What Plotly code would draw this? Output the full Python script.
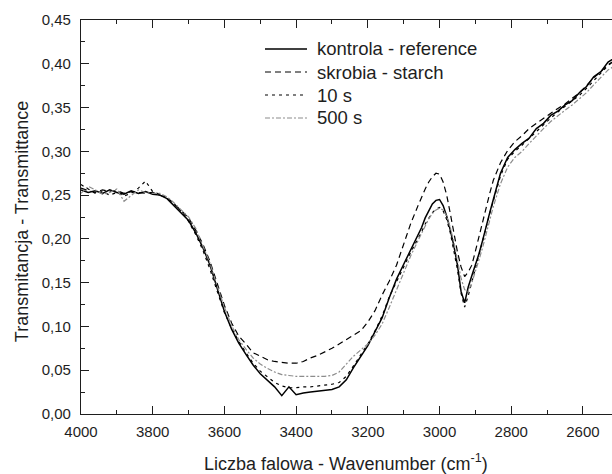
import plotly.graph_objects as go

wavenumber = [
    4000, 3980, 3960, 3940, 3920, 3900, 3880, 3860, 3840, 3820, 3800, 3780,
    3760, 3740, 3720, 3700, 3680, 3660, 3640, 3620, 3600, 3580, 3560, 3540,
    3520, 3500, 3480, 3460, 3440, 3420, 3400, 3380, 3360, 3340, 3320, 3300,
    3280, 3260, 3240, 3220, 3200, 3180, 3160, 3140, 3120, 3100, 3080, 3060,
    3050, 3040, 3030, 3020, 3010, 3000, 2990, 2980, 2970, 2960, 2950, 2940,
    2930, 2920, 2910, 2900, 2890, 2880, 2870, 2860, 2850,
    2830, 2810, 2790, 2770, 2750, 2730, 2710, 2690, 2670, 2650, 2630, 2610,
    2590, 2570, 2550, 2530, 2510,
]

kontrola = [
    0.256, 0.253, 0.255, 0.252, 0.256, 0.253, 0.251, 0.255, 0.252, 0.254, 0.251, 0.250,
    0.246, 0.238, 0.230, 0.221, 0.207, 0.190, 0.170, 0.143, 0.117, 0.097, 0.081, 0.068,
    0.056, 0.046, 0.038, 0.031, 0.021, 0.031, 0.022, 0.024, 0.025, 0.026, 0.027, 0.028,
    0.031, 0.039, 0.053, 0.066, 0.078, 0.094, 0.110, 0.133, 0.154, 0.171, 0.188, 0.205,
    0.213, 0.224, 0.232, 0.240, 0.244, 0.245, 0.238, 0.226, 0.210, 0.192, 0.170, 0.140,
    0.127, 0.145, 0.158, 0.170, 0.183, 0.198, 0.215, 0.230, 0.245,
    0.275, 0.293, 0.302, 0.309, 0.315, 0.326, 0.332, 0.341, 0.346, 0.353, 0.358, 0.367,
    0.374, 0.385, 0.391, 0.402, 0.407,
]

skrobia = [
    0.258, 0.255, 0.253, 0.256, 0.254, 0.255, 0.252, 0.254, 0.253, 0.252, 0.253, 0.250,
    0.247, 0.240, 0.232, 0.224, 0.210, 0.194, 0.174, 0.148, 0.124, 0.104, 0.089, 0.080,
    0.070, 0.066, 0.062, 0.060, 0.059, 0.058, 0.058, 0.060, 0.064, 0.067, 0.071, 0.075,
    0.080, 0.085, 0.090, 0.095, 0.105, 0.118, 0.136, 0.152, 0.170, 0.195, 0.218, 0.238,
    0.248, 0.257, 0.265, 0.271, 0.275, 0.274, 0.265, 0.250, 0.229, 0.206, 0.185, 0.168,
    0.157, 0.162, 0.170, 0.186, 0.203, 0.220, 0.236, 0.252, 0.267,
    0.287, 0.301, 0.311, 0.318, 0.326, 0.332, 0.338, 0.344, 0.349, 0.354, 0.360, 0.367,
    0.375, 0.384, 0.391, 0.399, 0.404,
]

s10 = [
    0.262, 0.257, 0.252, 0.254, 0.250, 0.253, 0.249, 0.252, 0.258, 0.266, 0.254, 0.251,
    0.247, 0.240, 0.231, 0.220, 0.205, 0.187, 0.165, 0.140, 0.116, 0.098, 0.083, 0.070,
    0.058, 0.049, 0.042, 0.036, 0.032, 0.030, 0.030, 0.031, 0.031, 0.032, 0.033, 0.034,
    0.036, 0.043, 0.055, 0.068, 0.080, 0.095, 0.112, 0.134, 0.152, 0.168, 0.185, 0.200,
    0.208, 0.217, 0.224, 0.230, 0.234, 0.236, 0.232, 0.222, 0.207, 0.188, 0.165, 0.138,
    0.122, 0.135, 0.150, 0.165, 0.180, 0.196, 0.213, 0.229, 0.243,
    0.272, 0.291, 0.300, 0.307, 0.315, 0.322, 0.331, 0.338, 0.345, 0.351, 0.357, 0.364,
    0.372, 0.381, 0.389, 0.398, 0.404,
]

s500 = [
    0.252, 0.260, 0.256, 0.251, 0.253, 0.257, 0.243, 0.250, 0.256, 0.253, 0.252, 0.252,
    0.248, 0.241, 0.233, 0.225, 0.212, 0.193, 0.172, 0.146, 0.122, 0.101, 0.085, 0.074,
    0.064, 0.057, 0.052, 0.048, 0.045, 0.044, 0.043, 0.043, 0.043, 0.043, 0.043, 0.044,
    0.048, 0.057, 0.066, 0.073, 0.080, 0.090, 0.103, 0.122, 0.142, 0.163, 0.181, 0.198,
    0.207, 0.215, 0.223, 0.229, 0.233, 0.235, 0.233, 0.226, 0.213, 0.196, 0.177, 0.155,
    0.142, 0.140, 0.150, 0.162, 0.176, 0.190, 0.206, 0.222, 0.237,
    0.263, 0.282, 0.293, 0.300, 0.309, 0.318, 0.326, 0.334, 0.341, 0.347, 0.353, 0.360,
    0.367, 0.376, 0.384, 0.393, 0.398,
]

series_names = ["kontrola - reference", "skrobia - starch", "10 s", "500 s"]

FONT = "Liberation Sans, Arial, sans-serif"
INK = "#1e1e1e"

styles = [
    dict(color="#000000", width=1.5, dash="solid"),
    dict(color="#000000", width=1.2, dash="6px,4px"),
    dict(color="#000000", width=1.2, dash="3px,4px"),
    dict(color="#8c8c8c", width=1.2, dash="5px,2px,2px,2px"),
]

fig = go.Figure()
for name, ys, st in zip(series_names, [kontrola, skrobia, s10, s500], styles):
    fig.add_trace(go.Scatter(x=wavenumber, y=ys, mode="lines", name=name,
                             line=st, showlegend=False))

# Custom legend (sample line + label), in plot-area paper coordinates
legend_rows_y = [0.9264, 0.8680, 0.8096, 0.7513]
for name, st, ly in zip(series_names, styles, legend_rows_y):
    fig.add_shape(type="line", xref="paper", yref="paper",
                  x0=0.3465, x1=0.4256, y0=ly, y1=ly,
                  line=dict(color=st["color"], width=st["width"], dash=st["dash"]))
    fig.add_annotation(xref="paper", yref="paper", x=0.4407, y=ly,
                       xanchor="left", yanchor="middle", showarrow=False,
                       text=name, font=dict(family=FONT, size=18.5, color=INK))

# Axis titles
fig.add_annotation(xref="paper", yref="paper", x=0.499, y=-0.122,
                   xanchor="center", yanchor="middle", showarrow=False,
                   text="Liczba falowa - Wavenumber (cm<sup>-1</sup>)",
                   font=dict(family=FONT, size=18, color=INK))
fig.add_annotation(xref="paper", yref="paper", x=-0.111, y=0.487,
                   xanchor="center", yanchor="middle", showarrow=False, textangle=-90,
                   text="Transmitancja - Transmittance",
                   font=dict(family=FONT, size=18, color=INK))

axis_common = dict(
    showline=True, linecolor=INK, linewidth=1.3,
    ticks="inside", ticklen=8, tickwidth=1.2, tickcolor=INK,
    showgrid=False, zeroline=False, automargin=False,
    tickfont=dict(family=FONT, size=15, color=INK),
)

fig.update_layout(
    width=612, height=474,
    margin=dict(l=81, r=0, t=20, b=60),
    paper_bgcolor="white", plot_bgcolor="white",
    separators=",.",
    showlegend=False,
    xaxis=dict(
        **axis_common,
        range=[4000, 2519], dtick=200, tick0=4000, mirror="ticks",
        minor=dict(ticks="inside", ticklen=4, dtick=100, tickcolor=INK, tickwidth=1.2),
        ticklabelstandoff=4,
    ),
    yaxis=dict(
        **axis_common,
        range=[0, 0.45], dtick=0.05, tick0=0, tickformat=".2f",
        minor=dict(ticks="inside", ticklen=4, dtick=0.025, tickcolor=INK, tickwidth=1.2),
        ticklabelstandoff=6,
    ),
)

fig.write_html(
    "out.html",
    config={"displayModeBar": False},
    post_script="document.documentElement.style.margin='0';"
                "document.body.style.margin='0';"
                "document.body.style.overflow='hidden';",
)
